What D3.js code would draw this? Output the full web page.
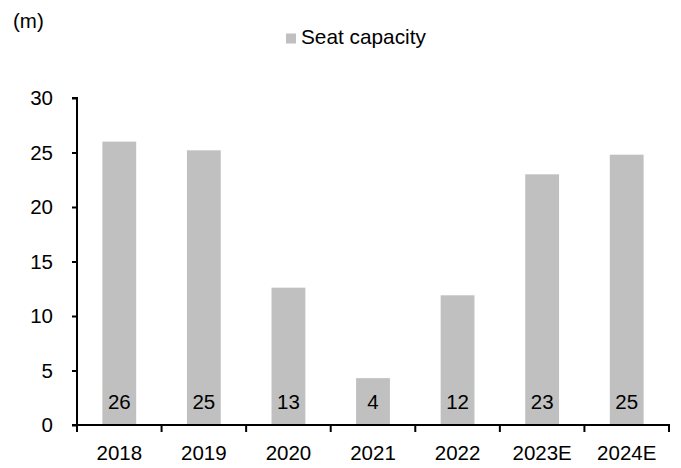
<!DOCTYPE html>
<html>
<head>
<meta charset="utf-8">
<script src="https://cdn.jsdelivr.net/npm/d3@7"></script>
<style>
  html, body { margin: 0; padding: 0; background: #fff; }
  svg { display: block; font-family: "Liberation Sans", Arial, sans-serif; }
</style>
</head>
<body>
<svg id="chart" width="681" height="468"></svg>
<script>
const categories = ["2018", "2019", "2020", "2021", "2022", "2023E", "2024E"];
const seatCapacity = [26.0, 25.2, 12.6, 4.3, 11.9, 23.0, 24.8];
const valueLabels = ["26", "25", "13", "4", "12", "23", "25"];
const yTicks = [0, 5, 10, 15, 20, 25, 30];
const seriesName = "Seat capacity";
const unitLabel = "(m)";

const svg = d3.select("#chart");
const fontSize = 20.5;
const barColor = "#c0c0c0";

const x = d3.scaleBand().domain(categories).range([77, 669]).paddingInner(0.6).paddingOuter(0.3);
const y = d3.scaleLinear().domain([0, 30]).range([425, 98]);

// bars
svg.append("g").selectAll("rect").data(seatCapacity).join("rect")
  .attr("x", (d, i) => x(categories[i]))
  .attr("y", d => y(d))
  .attr("width", x.bandwidth())
  .attr("height", d => y(0) - y(d))
  .attr("fill", barColor);

// value labels
svg.append("g").selectAll("text").data(valueLabels).join("text")
  .attr("x", (d, i) => x(categories[i]) + x.bandwidth() / 2)
  .attr("y", 409)
  .attr("text-anchor", "middle")
  .attr("font-size", fontSize)
  .attr("fill", "#000")
  .text(d => d);

// y axis
const yAxis = svg.append("g").attr("transform", "translate(77,0)")
  .call(d3.axisLeft(y).tickValues(yTicks).tickSize(5).tickPadding(19).tickFormat(d3.format("d")));
yAxis.select(".domain").attr("stroke", "#000").attr("stroke-width", 2).attr("d", `M-5,${y(30)}H0V${y(0)}`);
yAxis.selectAll(".tick line").attr("stroke", "#000").attr("stroke-width", 2);
yAxis.selectAll(".tick text").attr("font-size", fontSize).attr("font-family", "Liberation Sans, Arial, sans-serif").attr("fill", "#000");

// x axis: labels
const xAxis = svg.append("g").attr("transform", `translate(0,${y(0)})`)
  .call(d3.axisBottom(x).tickSize(0).tickPadding(0));
xAxis.select(".domain").remove();
xAxis.selectAll(".tick text")
  .attr("font-size", fontSize).attr("font-family", "Liberation Sans, Arial, sans-serif").attr("fill", "#000")
  .attr("dy", null).attr("y", 35);

// x axis line and boundary ticks
const x0 = x.range()[0], x1 = x.range()[1];
svg.append("line").attr("x1", x0 - 5).attr("x2", x1 + 1).attr("y1", y(0)).attr("y2", y(0))
  .attr("stroke", "#000").attr("stroke-width", 2);
const bounds = d3.range(categories.length + 1).map(i => x0 + i * x.step());
svg.append("g").selectAll("line").data(bounds).join("line")
  .attr("x1", d => d).attr("x2", d => d)
  .attr("y1", y(0)).attr("y2", y(0) + 7)
  .attr("stroke", "#000").attr("stroke-width", 2);

// legend
svg.append("rect").attr("x", 286).attr("y", 33.5).attr("width", 10).attr("height", 10).attr("fill", barColor);
svg.append("text").attr("x", 301).attr("y", 44).attr("font-size", 20.8).attr("fill", "#000").text(seriesName);

// unit label
svg.append("text").attr("x", 13).attr("y", 27.5).attr("font-size", fontSize).attr("fill", "#000").text(unitLabel);
</script>
</body>
</html>
